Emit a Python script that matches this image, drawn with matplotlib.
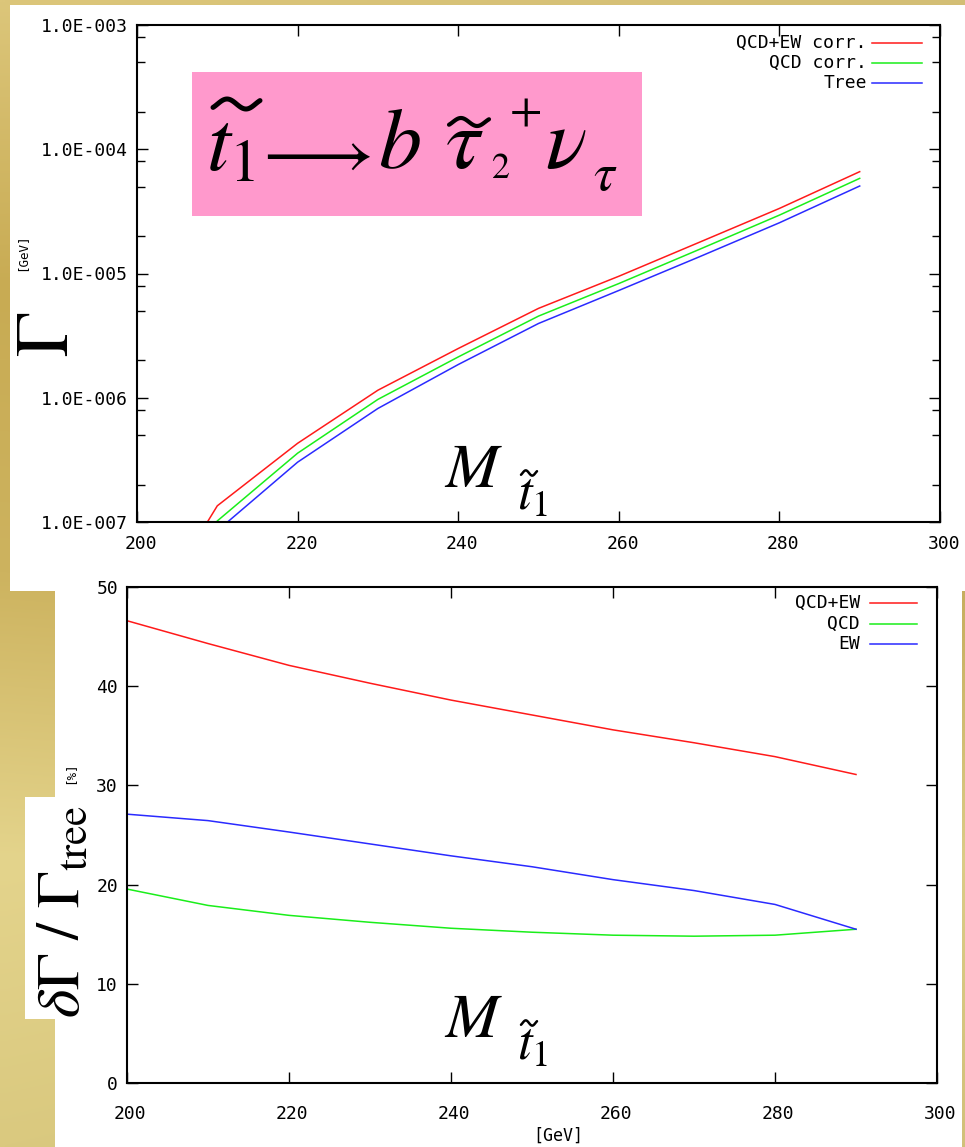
import numpy as np
import matplotlib
matplotlib.use("Agg")
import matplotlib.pyplot as plt
import matplotlib.transforms as mtransforms
from matplotlib.patches import Rectangle
from matplotlib.ticker import LogLocator, NullFormatter

# ---------------------------------------------------------------- data
# stop mass [GeV] and partial width Gamma(t1 -> b stau2+ nu_tau) [GeV]
mass_width = [205, 210, 220, 230, 240, 250, 260, 270, 280, 290]
width_qcd_ew = [4.0e-8, 1.35e-7, 4.3e-7, 1.15e-6, 2.49e-6, 5.24e-6, 9.5e-6, 1.78e-5, 3.34e-5, 6.6e-5]
width_qcd = [3.3e-8, 1.02e-7, 3.58e-7, 9.7e-7, 2.13e-6, 4.54e-6, 8.3e-6, 1.56e-5, 2.95e-5, 5.83e-5]
width_tree = [2.8e-8, 8.5e-8, 3.03e-7, 8.2e-7, 1.85e-6, 3.96e-6, 7.3e-6, 1.36e-5, 2.56e-5, 5.06e-5]

# relative corrections delta Gamma / Gamma_tree [%]
mass_rel = [200, 210, 220, 230, 240, 250, 260, 270, 280, 290]
rel_qcd_ew = [46.6, 44.3, 42.1, 40.3, 38.6, 37.1, 35.6, 34.3, 32.9, 31.1]
rel_qcd = [19.55, 17.9, 16.9, 16.2, 15.6, 15.2, 14.9, 14.8, 14.9, 15.5]
rel_ew = [27.1, 26.45, 25.3, 24.1, 22.9, 21.8, 20.5, 19.4, 18.0, 15.5]

x_ticks = [200, 220, 240, 260, 280, 300]
width_ticks = [1e-7, 1e-6, 1e-5, 1e-4, 1e-3]
width_tick_labels = ["1.0E-007", "1.0E-006", "1.0E-005", "1.0E-004", "1.0E-003"]
rel_ticks = [0, 10, 20, 30, 40, 50]

top_legend = ["QCD+EW corr.", "QCD corr.", "Tree"]
bottom_legend = ["QCD+EW", "QCD", "EW"]

# ---------------------------------------------------------------- style
RED, GREEN, BLUE = "#ff1a1a", "#1aee1a", "#2a2aff"
MONO = "DejaVu Sans Mono"
SERIF = "STIXGeneral"
plt.rcParams["mathtext.fontset"] = "stix"
plt.rcParams["font.family"] = MONO

W, H = 965, 1147
fig = plt.figure(figsize=(W / 100, H / 100), dpi=100)

# slide background: golden gradient with white panels (pixel coordinates)
bg = fig.add_axes([0, 0, 1, 1], zorder=-10)
bg.set_axis_off()
stops = [0.0, 0.25, 0.5, 0.75, 1.0]
cols = np.array([matplotlib.colors.to_rgb(c) for c in
                 ["#dcc67a", "#c8ab53", "#cdb35f", "#e4d48c", "#dac97f"]])
yy = np.linspace(0, 1, 300)
xx = np.linspace(0, 1, 100)
grad = np.stack([np.interp(yy, stops, cols[:, k]) for k in range(3)], axis=-1)
img = grad[:, None, :] * (1.0 - 0.04 * xx[None, :, None])
bg.imshow(img, extent=[0, W, H, 0], aspect="auto", interpolation="bilinear")
bg.set_xlim(0, W)
bg.set_ylim(H, 0)
bg.add_patch(Rectangle((10, 5), 955, 586, color="white", lw=0))
bg.add_patch(Rectangle((55, 591), 907, 556, color="white", lw=0))
bg.add_patch(Rectangle((25, 797), 30, 222, color="white", lw=0))
bg.add_patch(Rectangle((192, 72), 450, 144, color="#ff99cc", lw=0))


def tilde(x0, x1, yc, amp, lw):
    """Wavy accent stroke drawn in pixel coordinates of the background."""
    t = np.linspace(-0.12, 1.12, 60)
    xs = x0 + (x1 - x0) * (t + 0.12) / 1.24
    ys = yc - amp * np.sin(2 * np.pi * t)
    bg.plot(xs, ys, color="black", lw=lw, solid_capstyle="round")


def style_axes(ax):
    ax.patch.set_visible(False)
    for s in ax.spines.values():
        s.set_linewidth(1.5)
    ax.tick_params(which="both", direction="in", top=True, right=True,
                   labelsize=13, width=1.0, colors="black")
    ax.tick_params(which="major", length=8)
    ax.tick_params(which="minor", length=6)
    ax.tick_params(axis="y", pad=6.5)


def shift_xlabels(ax, dx_px):
    off = mtransforms.ScaledTranslation(dx_px / 100, 0, fig.dpi_scale_trans)
    for lbl in ax.get_xticklabels():
        lbl.set_transform(lbl.get_transform() + off)


def legend_rows(ax, names, colors, x_text, x0, x1, ys):
    for name, c, y in zip(names, colors, ys):
        ax.text(x_text, y, name, transform=ax.transAxes, ha="right",
                va="center", fontsize=13, family=MONO)
        ax.plot([x0, x1], [y, y], transform=ax.transAxes, color=c,
                lw=1.1, clip_on=False)


# ---------------------------------------------------------------- top: widths
ax1 = fig.add_axes([137 / W, 1 - 522 / H, 803 / W, 497 / H])
style_axes(ax1)
ax1.set_yscale("log")
ax1.plot(mass_width, width_qcd_ew, color=RED, lw=1.1)
ax1.plot(mass_width, width_qcd, color=GREEN, lw=1.1)
ax1.plot(mass_width, width_tree, color=BLUE, lw=1.1)
ax1.set_xlim(200, 300)
ax1.set_ylim(1e-7, 1e-3)
ax1.set_xticks(x_ticks)
ax1.set_xticklabels([str(v) for v in x_ticks])
ax1.set_yticks(width_ticks)
ax1.set_yticklabels(width_tick_labels)
ax1.yaxis.set_minor_locator(LogLocator(base=10, subs=[2, 5, 8]))
ax1.yaxis.set_minor_formatter(NullFormatter())
ax1.tick_params(axis="x", pad=9.5)
shift_xlabels(ax1, 4)
legend_rows(ax1, top_legend, [RED, GREEN, BLUE], 0.909, 0.9153, 0.9776,
            [0.963, 0.923, 0.883])

# ---------------------------------------------------------------- bottom: ratios
ax2 = fig.add_axes([127 / W, 1 - 1083 / H, 810 / W, 496 / H])
style_axes(ax2)
ax2.plot(mass_rel, rel_qcd_ew, color=RED, lw=1.1)
ax2.plot(mass_rel, rel_qcd, color=GREEN, lw=1.1)
ax2.plot(mass_rel, rel_ew, color=BLUE, lw=1.1)
ax2.set_xlim(200, 300)
ax2.set_ylim(0, 50)
ax2.set_xticks(x_ticks)
ax2.set_xticklabels([str(v) for v in x_ticks])
ax2.set_yticks(rel_ticks)
ax2.set_yticklabels([str(v) for v in rel_ticks])
ax2.tick_params(axis="x", pad=16)
shift_xlabels(ax2, 3)
legend_rows(ax2, bottom_legend, [RED, GREEN, BLUE], 0.905, 0.917, 0.975,
            [0.967, 0.925, 0.885])

# ---------------------------------------------------------------- labels
# y-axis labels
bg.text(47, 334, r"$\Gamma$", rotation=90, ha="center", va="center", fontsize=54)
bg.text(22, 252, "[GeV]", rotation=90, ha="center", va="center", fontsize=9, family=MONO)
bg.text(62, 912, r"$\delta\Gamma\ /\ \Gamma_{\rm tree}$", rotation=90,
        ha="center", va="center", fontsize=44)
bg.text(70, 773, "[%]", rotation=90, ha="center", va="center", fontsize=9, family=MONO)
bg.text(558, 1136, "[GeV]", ha="center", va="center", fontsize=12, family=MONO)


def mass_label(x, y_base):
    bg.text(x, y_base, "M", family=SERIF, style="italic", fontsize=46,
            ha="left", va="baseline")
    bg.text(x + 72, y_base + 23, r"$t_1$", fontsize=38,
            ha="left", va="baseline")
    tilde(x + 76, x + 92, y_base - 14, 2.6, 1.8)


mass_label(445, 487)
mass_label(445, 1037)

# decay process in the pink box
bg.text(206, 170, r"$t_1$", fontsize=62, ha="left", va="baseline")
tilde(213, 260, 104, 5.0, 3.6)
bg.text(312, 153, r"$\longrightarrow$", fontsize=50, ha="center", va="center")
bg.text(378, 168, r"$b$", fontsize=62, ha="left", va="baseline")
bg.text(445, 168, r"$\tau$", fontsize=62, ha="left", va="baseline")
tilde(449, 489, 122, 4.0, 3.0)
bg.text(492, 178, "2", family=SERIF, fontsize=26, ha="left", va="baseline")
bg.text(526, 114, "+", family=SERIF, fontsize=34, ha="center", va="center")
bg.text(545, 168, r"$\nu$", fontsize=62, ha="left", va="baseline")
bg.text(593, 190, r"$\tau$", fontsize=38, ha="left", va="baseline")

fig.savefig("out.png", dpi=100)
